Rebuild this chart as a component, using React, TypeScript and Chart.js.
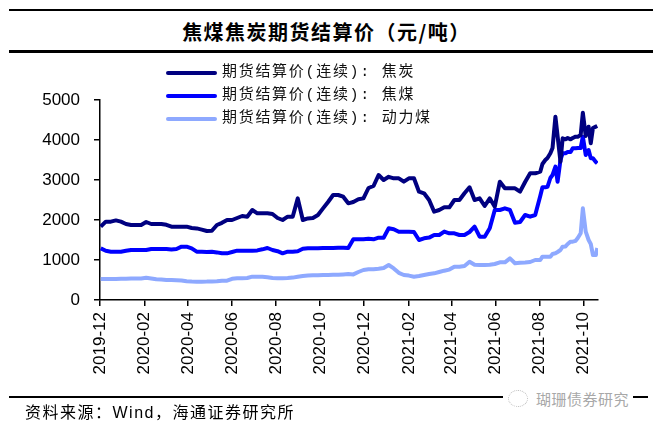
import React, { useEffect, useRef } from 'react';
import Chart from 'chart.js/auto';

// weekly settlement prices, twice a week from Aug 2021
const dates = [
  '2019-12-02', '2019-12-09', '2019-12-16', '2019-12-23', '2019-12-30',
  '2020-01-06', '2020-01-13', '2020-01-20', '2020-01-27', '2020-02-03',
  '2020-02-10', '2020-02-17', '2020-02-24', '2020-03-02', '2020-03-09',
  '2020-03-16', '2020-03-23', '2020-03-30', '2020-04-06', '2020-04-13',
  '2020-04-20', '2020-04-27', '2020-05-04', '2020-05-11', '2020-05-18',
  '2020-05-25', '2020-06-01', '2020-06-08', '2020-06-15', '2020-06-22',
  '2020-06-29', '2020-07-06', '2020-07-13', '2020-07-20', '2020-07-27',
  '2020-08-03', '2020-08-10', '2020-08-17', '2020-08-24', '2020-08-31',
  '2020-09-07', '2020-09-14', '2020-09-21', '2020-09-28', '2020-10-05',
  '2020-10-12', '2020-10-19', '2020-10-26', '2020-11-02', '2020-11-09',
  '2020-11-16', '2020-11-23', '2020-11-30', '2020-12-07', '2020-12-14',
  '2020-12-21', '2020-12-28', '2021-01-04', '2021-01-11', '2021-01-18',
  '2021-01-25', '2021-02-01', '2021-02-08', '2021-02-15', '2021-02-22',
  '2021-03-01', '2021-03-08', '2021-03-15', '2021-03-22', '2021-03-29',
  '2021-04-05', '2021-04-12', '2021-04-19', '2021-04-26', '2021-05-03',
  '2021-05-10', '2021-05-17', '2021-05-24', '2021-05-31', '2021-06-07',
  '2021-06-14', '2021-06-21', '2021-06-28', '2021-07-05', '2021-07-12',
  '2021-07-19', '2021-07-26', '2021-08-02',
  '2021-08-05', '2021-08-09', '2021-08-12', '2021-08-16', '2021-08-19',
  '2021-08-23', '2021-08-26', '2021-08-30', '2021-09-02', '2021-09-06',
  '2021-09-09', '2021-09-13', '2021-09-16', '2021-09-20', '2021-09-23',
  '2021-09-27', '2021-09-30', '2021-10-04', '2021-10-08', '2021-10-11',
  '2021-10-14', '2021-10-18', '2021-10-20',
];

const cokePrice = [
  1833, 1958, 1958, 1990, 1958, 1900, 1875, 1875, 1875, 1950,
  1900, 1900, 1900, 1880, 1833, 1833, 1833, 1833, 1800, 1790,
  1760, 1725, 1730, 1875, 1930, 2000, 2000, 2050, 2100, 2083,
  2250, 2167, 2167, 2167, 2150, 2050, 2000, 2083, 2083, 2540,
  2000, 2040, 2050, 2125, 2290, 2450, 2625, 2625, 2583, 2417,
  2450, 2517, 2540, 2800, 2850, 3125, 3000, 3080, 3042, 3042,
  2958, 3042, 3042, 2708, 2667, 2500, 2208, 2250, 2317, 2317,
  2500, 2500, 2667, 2817, 2500, 2542, 2350, 2542, 2333, 2958,
  2792, 2792, 2792, 2708, 2950, 3167, 3167, 3208,
  3400, 3500, 3550, 3667, 3800, 4583, 4100, 3458, 4042, 4017,
  4050, 4017, 4050, 4083, 4083, 4125, 4683, 4100, 4333, 3917,
  4300, 4333, 4350,
];

const cokingCoalPrice = [
  1292, 1230, 1208, 1208, 1208, 1230, 1250, 1250, 1250, 1250,
  1275, 1275, 1275, 1275, 1260, 1275, 1333, 1333, 1290, 1208,
  1208, 1200, 1208, 1190, 1167, 1167, 1200, 1233, 1233, 1233,
  1233, 1240, 1267, 1300, 1250, 1220, 1167, 1208, 1208, 1220,
  1280, 1292, 1292, 1292, 1300, 1300, 1300, 1308, 1308, 1300,
  1517, 1517, 1517, 1530, 1517, 1558, 1558, 1792, 1770, 1708,
  1708, 1708, 1700, 1500, 1542, 1560, 1625, 1625, 1710, 1667,
  1667, 1625, 1625, 1700, 1833, 1583, 1583, 1792, 2250, 2250,
  2292, 2250, 1933, 1950, 2125, 2083, 2125, 2600,
  2817, 2817, 2830, 3050, 3125, 3333, 2958, 3500, 3667, 3667,
  3700, 3700, 3792, 3792, 3800, 3800, 4083, 3625, 3750, 3542,
  3542, 3450, 3417,
];

const thermalCoalPrice = [
  525, 525, 525, 525, 530, 530, 535, 535, 540, 555,
  540, 520, 510, 500, 500, 495, 490, 470, 460, 458,
  458, 460, 465, 470, 483, 483, 530, 542, 545, 550,
  583, 583, 580, 570, 550, 542, 545, 550, 560, 583,
  600, 610, 620, 620, 625, 625, 630, 630, 640, 650,
  640, 700, 750, 767, 767, 780, 800, 875, 790, 680,
  625, 610, 583, 600, 625, 650, 667, 700, 733, 760,
  833, 833, 850, 958, 880, 875, 875, 880, 900, 942,
  942, 1042, 920, 933, 940, 950, 1000, 1000,
  1083, 1083, 1083, 1083, 1150, 1167, 1200, 1250, 1333, 1340,
  1400, 1458, 1458, 1480, 1550, 1667, 2292, 1708, 1500, 1400,
  1125, 1125, 1300,
];

const tickDates = [
  '2019-12-01', '2020-02-01', '2020-04-01', '2020-06-01', '2020-08-01', '2020-10-01',
  '2020-12-01', '2021-02-01', '2021-04-01', '2021-06-01', '2021-08-01', '2021-10-01',
];
const tickLabels = [
  '2019-12', '2020-02', '2020-04', '2020-06', '2020-08', '2020-10',
  '2020-12', '2021-02', '2021-04', '2021-06', '2021-08', '2021-10',
];

const seriesNames = ['期货结算价(连续): 焦炭', '期货结算价(连续): 焦煤', '期货结算价(连续): 动力煤'];
const seriesColors = ['#000080', '#0000ff', '#8ea9ff'];

// days since 2019-12-01
const dayOf = (s: string) => {
  const [y, m, d] = s.split('-').map(Number);
  return (Date.UTC(y, m - 1, d) - Date.UTC(2019, 11, 1)) / 86400000;
};

const cjk = "'Noto Sans CJK SC', sans-serif";

const App: React.FC = () => {
  const chartRef = useRef<HTMLCanvasElement | null>(null);

  useEffect(() => {
    const ctx = chartRef.current?.getContext('2d');
    if (!ctx) return;
    const series = [cokePrice, cokingCoalPrice, thermalCoalPrice];
    const chartInstance = new Chart(ctx, {
      type: 'line',
      data: {
        datasets: series.map((vals, i) => ({
          label: seriesNames[i],
          data: vals.map((v, j) => ({ x: dayOf(dates[j]), y: v })),
          borderColor: seriesColors[i],
          backgroundColor: seriesColors[i],
          borderWidth: 4,
          borderJoinStyle: 'round' as const,
          pointRadius: 0,
          fill: false,
          tension: 0,
        })),
      },
      options: {
        responsive: false,
        animation: false,
        layout: { padding: { left: 0, right: 55, top: 100, bottom: 0 } },
        plugins: { legend: { display: false }, tooltip: { enabled: false } },
        scales: {
          x: {
            type: 'linear',
            min: 0,
            max: 690,
            afterBuildTicks: (axis: any) => {
              axis.ticks = tickDates.map((d) => ({ value: dayOf(d) }));
            },
            afterFit: (scale: any) => {
              scale.height = 129;
            },
            grid: { display: true, drawOnChartArea: false, tickLength: 6, color: '#000', lineWidth: 1.5 },
            border: { display: true, color: '#000', width: 1.5 },
            ticks: {
              autoSkip: false,
              minRotation: 90,
              maxRotation: 90,
              padding: 6,
              color: '#000',
              font: { family: 'Liberation Sans', size: 17 },
              callback: (_v: any, i: number) => tickLabels[i],
            },
          },
          y: {
            min: 0,
            max: 5000,
            afterFit: (scale: any) => {
              scale.width = 100;
            },
            grid: { display: true, drawOnChartArea: false, tickLength: 6, color: '#000', lineWidth: 1.5 },
            border: { display: true, color: '#000', width: 1.5 },
            ticks: {
              stepSize: 1000,
              padding: 14,
              color: '#000',
              font: { family: 'Liberation Sans', size: 17 },
              callback: (v: any) => String(v),
            },
          },
        },
      },
    });

    return () => {
      chartInstance.destroy();
    };
  }, []);

  return (
    <div style={{ position: 'fixed', left: 0, top: 0, width: 653, height: 429, background: '#fff', overflow: 'hidden' }}>
      <div style={{ position: 'absolute', left: 9, right: 0, top: 9, height: 2, background: '#000' }} />
      <div
        style={{
          position: 'absolute', left: 0, top: 20, width: 653, textAlign: 'center',
          fontFamily: cjk, fontWeight: 700, fontSize: 20, lineHeight: '24px', letterSpacing: 1.5, color: '#000',
        }}
      >
        焦煤焦炭期货结算价（元/吨）
      </div>
      <div style={{ position: 'absolute', left: 9, right: 0, top: 50, height: 2.5, background: '#000' }} />

      <canvas ref={chartRef} width={653} height={429} style={{ position: 'absolute', left: 0, top: 0 }} />

      {seriesNames.map((name, i) => (
        <div
          key={name}
          style={{ position: 'absolute', left: 166, top: 63 + i * 23, height: 20, display: 'flex', alignItems: 'center' }}
        >
          <div style={{ width: 51, height: 4, background: seriesColors[i], borderRadius: 2 }} />
          <span
            style={{
              marginLeft: 5, fontFamily: "'Liberation Mono', 'Noto Sans CJK SC', monospace", fontSize: 15,
              letterSpacing: 1.7, color: '#111', whiteSpace: 'nowrap', lineHeight: '20px',
            }}
          >
            {name}
          </span>
        </div>
      ))}

      <div style={{ position: 'absolute', left: 9, right: 5, top: 395.5, height: 2, background: '#000' }} />
      <div
        style={{
          position: 'absolute', left: 503, top: 387, width: 130, height: 22, background: '#fff',
          display: 'flex', alignItems: 'center',
        }}
      >
        <div
          style={{
            width: 18, height: 15, marginLeft: 5, border: '1.5px dotted #bbb', borderRadius: '50%',
          }}
        />
        <span style={{ marginLeft: 8, fontFamily: cjk, fontSize: 15, color: '#a8a8a8', letterSpacing: 0.5 }}>
          瑚珊债券研究
        </span>
      </div>
      <div
        style={{
          position: 'absolute', left: 25, top: 403, fontFamily: "'Liberation Sans', 'Noto Sans CJK SC', sans-serif",
          fontSize: 16, letterSpacing: 1.5, color: '#000', whiteSpace: 'nowrap', lineHeight: '20px',
        }}
      >
        资料来源：Wind，海通证券研究所
      </div>
    </div>
  );
};

export default App;
